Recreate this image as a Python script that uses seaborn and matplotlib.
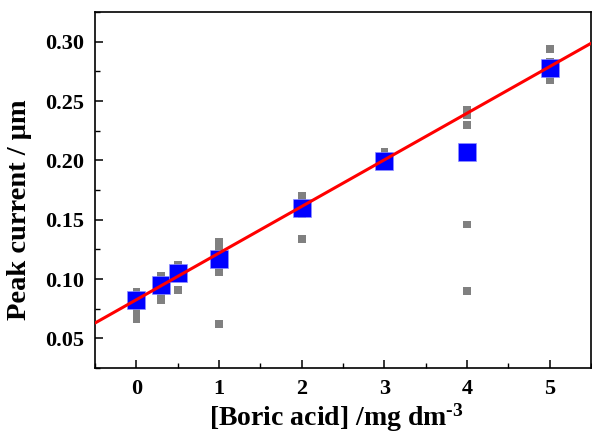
import numpy as np
import pandas as pd
import matplotlib
matplotlib.use("Agg")
import matplotlib.pyplot as plt
from matplotlib.ticker import MultipleLocator, FormatStrFormatter
import seaborn as sns

# Individual replicate measurements (gray)
rep_x = [0, 0, 0, 0, 0, 0,
         0.3, 0.3, 0.3, 0.3, 0.3,
         0.5, 0.5, 0.5, 0.5,
         1, 1, 1, 1, 1, 1,
         2, 2, 2, 2,
         3, 3, 3, 3,
         4, 4, 4, 4, 4,
         5, 5, 5, 5, 5]
rep_y = [0.089, 0.085, 0.080, 0.074, 0.070, 0.066,
         0.103, 0.099, 0.092, 0.086, 0.082,
         0.112, 0.108, 0.103, 0.091,
         0.131, 0.127, 0.122, 0.110, 0.106, 0.062,
         0.170, 0.165, 0.155, 0.134,
         0.207, 0.203, 0.200, 0.198,
         0.243, 0.238, 0.230, 0.146, 0.090,
         0.294, 0.283, 0.279, 0.272, 0.268]

# Mean peak current per concentration (blue)
conc = [0, 0.3, 0.5, 1, 2, 3, 4, 5]
mean_current = [0.082, 0.095, 0.105, 0.117, 0.160, 0.1995, 0.207, 0.278]

# Linear calibration fit
fit_slope = 0.0393
fit_intercept = 0.0826

x_range = [-0.5, 5.5]
y_range = [0.025, 0.325]

sns.set_theme(style="ticks")
plt.rcParams["font.family"] = ["Liberation Serif", "DejaVu Serif"]
plt.rcParams["font.weight"] = "bold"
plt.rcParams["text.color"] = "black"
plt.rcParams["axes.labelcolor"] = "black"
plt.rcParams["xtick.color"] = "black"
plt.rcParams["ytick.color"] = "black"
plt.rcParams["mathtext.fontset"] = "custom"
plt.rcParams["mathtext.rm"] = "Liberation Serif:bold"
plt.rcParams["mathtext.it"] = "Liberation Serif:bold"
plt.rcParams["mathtext.bf"] = "Liberation Serif:bold"
plt.rcParams["mathtext.default"] = "rm"

fig = plt.figure(figsize=(5.92, 4.32), dpi=100)
ax = fig.add_axes([0.1605, 0.148, 0.838, 0.824])

reps = pd.DataFrame({"x": rep_x, "y": rep_y})
means = pd.DataFrame({"x": conc, "y": mean_current})
fit_x = np.array(x_range)
fit = pd.DataFrame({"x": fit_x, "y": fit_slope * fit_x + fit_intercept})

sns.scatterplot(data=reps, x="x", y="y", ax=ax, marker="s", s=30,
                color="#808080", edgecolor="none", zorder=2)
sns.scatterplot(data=means, x="x", y="y", ax=ax, marker="s", s=155,
                color="#0000ff", edgecolor="#9090ff", linewidth=0.5, zorder=3)
sns.lineplot(data=fit, x="x", y="y", ax=ax, color="#ff0000", lw=2.2, zorder=4)

ax.set_xlim(*x_range)
ax.set_ylim(*y_range)
ax.xaxis.set_major_locator(MultipleLocator(1))
ax.xaxis.set_minor_locator(MultipleLocator(0.5))
ax.yaxis.set_minor_locator(MultipleLocator(0.025))
ax.set_yticks([0.05, 0.10, 0.15, 0.20, 0.25, 0.30])
ax.yaxis.set_major_formatter(FormatStrFormatter("%.2f"))

ax.tick_params(which="major", direction="in", length=6, width=1.1,
               labelsize=16, pad=8, colors="black")
ax.tick_params(which="minor", direction="in", length=3.5, width=1.0)
ax.tick_params(top=False, right=False, which="both")
for lbl in ax.get_xticklabels() + ax.get_yticklabels():
    lbl.set_fontweight("bold")

for sp in ax.spines.values():
    sp.set_visible(True)
    sp.set_linewidth(1.2)
    sp.set_color("black")

ax.set_xlabel("[Boric acid] /mg dm$^{\\text{-3}}$", fontsize=20,
              fontweight="bold")
ax.set_ylabel("Peak current / μm", fontsize=20.5, fontweight="bold")
ax.xaxis.set_label_coords(0.486, -0.095)
ax.yaxis.set_label_coords(-0.128, 0.444)

fig.savefig("out.png", dpi=100)
